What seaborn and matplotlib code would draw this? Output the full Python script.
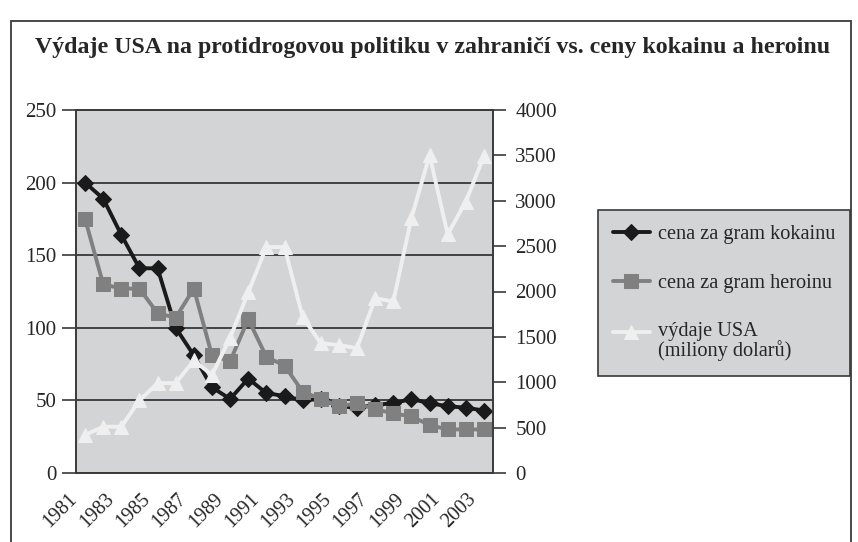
import pandas as pd
import matplotlib.pyplot as plt
import matplotlib.patches as mpatches
import matplotlib.transforms as mtransforms
from matplotlib.legend_handler import HandlerLine2D
from matplotlib.ticker import MultipleLocator, FixedLocator
import seaborn as sns

roky = list(range(1981, 2004))
kokain = [200, 189, 164, 141, 141, 100, 81, 59, 51, 65, 55, 53, 50, 51, 46, 45, 47, 48, 51, 48, 46, 45, 43]
heroin = [175, 130, 127, 127, 110, 107, 127, 81, 77, 106, 80, 74, 56, 51, 46, 48, 44, 41, 39, 33, 30, 30, 30]
vydaje = [420, 510, 510, 800, 990, 990, 1240, 1080, 1490, 1990, 2490, 2490, 1720, 1430, 1410, 1375,
          1925, 1890, 2810, 3500, 2630, 2990, 3490]

nazvy = ['cena za gram kokainu', 'cena za gram heroinu', 'výdaje USA\n(miliony dolarů)']
titulek = 'Výdaje USA na protidrogovou politiku v zahraničí vs. ceny kokainu a heroinu'

df = pd.DataFrame({'rok': roky, 'kokain': kokain, 'heroin': heroin, 'vydaje': vydaje})

sns.set_style('white')
plt.rcParams['font.family'] = ['Liberation Serif', 'DejaVu Serif']

seda = '#d3d4d6'
tmava = '#3a3a3a'


# symbol ve legendě zarovnat k prvnímu řádku dvouřádkového popisku
class HandlerNahore(HandlerLine2D):
    def create_artists(self, legend, orig_handle, xdescent, ydescent, width, height, fontsize, trans):
        return super().create_artists(legend, orig_handle, xdescent, ydescent - 0.89 * fontsize,
                                      width, height, fontsize, trans)


fig = plt.figure(figsize=(8.58, 5.42), dpi=100)
ax = fig.add_axes([76 / 858, 1 - 473 / 542, (493 - 76) / 858, (473 - 110) / 542])
ax.set_facecolor(seda)
ax2 = ax.twinx()

sns.lineplot(data=df, x='rok', y='kokain', ax=ax, color='#1a1a1a', linewidth=2.8,
             marker='D', markersize=8.5, markeredgecolor='#1a1a1a', label=nazvy[0], legend=False)
sns.lineplot(data=df, x='rok', y='heroin', ax=ax, color='#808080', linewidth=2.8,
             marker='s', markersize=9.5, markeredgecolor='#808080', label=nazvy[1], legend=False)
sns.lineplot(data=df, x='rok', y='vydaje', ax=ax2, color='#efefef', linewidth=2.8,
             marker='^', markersize=10, markeredgecolor='#efefef', label=nazvy[2], legend=False)

ax.set_xlim(1980.5, 2003.5)
ax.set_ylim(0, 250)
ax2.set_ylim(0, 4000)
ax.yaxis.set_major_locator(MultipleLocator(50))
ax2.yaxis.set_major_locator(MultipleLocator(500))
ax.grid(axis='y', color='#2a2a2a', linewidth=1.2)
ax.grid(axis='x', visible=False)
ax2.grid(False)
ax.set_axisbelow(True)

ax.xaxis.set_major_locator(FixedLocator(roky[::2]))
ax.xaxis.set_minor_locator(FixedLocator([r - 0.5 for r in roky] + [2003.5]))
ax.tick_params(axis='x', which='major', length=0, pad=19, labelsize=14.5)
ax.tick_params(axis='x', which='minor', length=10, width=1.2, color=tmava, direction='out')
posun = mtransforms.ScaledTranslation(-7 / 100, 0, fig.dpi_scale_trans)
for t in ax.get_xticklabels():
    t.set_rotation(45)
    t.set_ha('right')
    t.set_va('baseline')
    t.set_rotation_mode('anchor')
    t.set_transform(t.get_transform() + posun)
ax.tick_params(axis='y', length=10, width=1.2, color=tmava, direction='out', pad=4, labelsize=15, left=True)
ax2.tick_params(axis='y', length=9, width=1.2, color=tmava, direction='out', pad=7, labelsize=15, right=True)

ax.set_xlabel('')
ax.set_ylabel('')
ax2.set_ylabel('')
for a in (ax, ax2):
    for s in a.spines.values():
        s.set_color(tmava)
        s.set_linewidth(1.2)

fig.patches.append(mpatches.Rectangle((11 / 858, -0.05), (851 - 11) / 858, 1 - 21 / 542 + 0.05,
                                      transform=fig.transFigure, fill=False, edgecolor=tmava, linewidth=1.3))

fig.text(433 / 858, 1 - 47 / 542, titulek, ha='center', va='center', fontsize=17.2, fontweight='bold')

h1, l1 = ax.get_legend_handles_labels()
h2, l2 = ax2.get_legend_handles_labels()
leg = fig.legend(h1 + h2, l1 + l2, loc='upper left', bbox_to_anchor=(598 / 858, 1 - 210 / 542),
                 borderaxespad=0, fontsize=14.6, frameon=True, fancybox=False, facecolor=seda,
                 edgecolor=tmava, framealpha=1, handlelength=1.8, labelspacing=1.45, borderpad=0.75,
                 handletextpad=0.4, handler_map={h2[0]: HandlerNahore()})
leg.get_frame().set_linewidth(1.2)
for t in leg.get_texts():
    t.set_linespacing(0.9)

fig.savefig('out.png', dpi=100)
